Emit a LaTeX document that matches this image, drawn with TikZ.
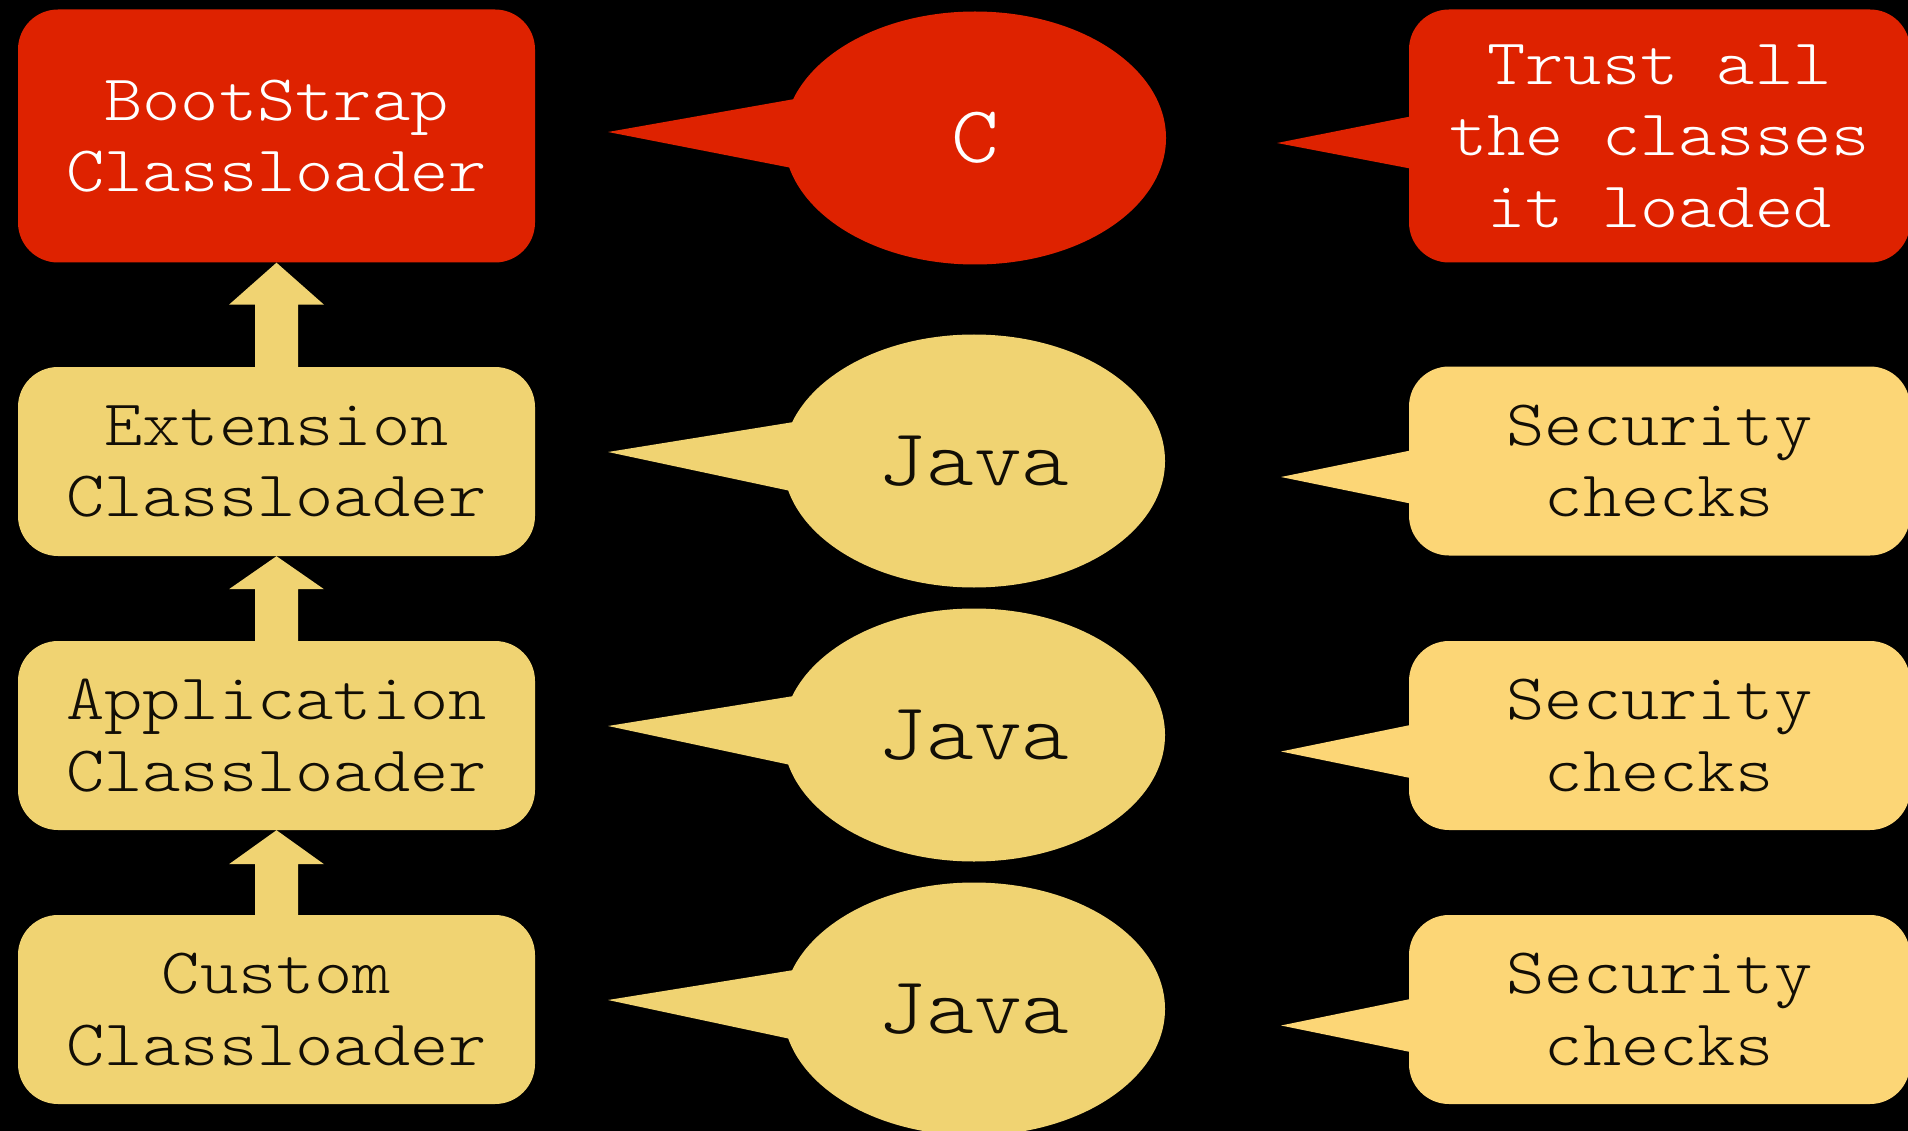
\documentclass[tikz,border=0pt]{standalone}
\usepackage{fontspec}
\usetikzlibrary{calc,shapes.geometric}
\newfontfamily\cour{lmmonolt10-regular.otf}[FakeStretch=1.12]

\definecolor{loadred}{RGB}{222,34,0}
\definecolor{paper}{RGB}{240,211,114}
\definecolor{note}{RGB}{252,214,118}
\definecolor{ink}{RGB}{18,14,6}

% block arrow from the lower box up to the upper box; #3 = head length
\newcommand\UpBlock[3]{%
  \fill[paper] ($(#1.north)+(-21.5,0)$) -- ($(#2.south)+(-21.5,#3)$)
    -- ($(#2.south)+(-47.5,#3)$) -- (#2.south) -- ($(#2.south)+(47.5,#3)$)
    -- ($(#2.south)+(21.5,#3)$) -- ($(#1.north)+(21.5,0)$) -- cycle;}

\begin{document}
\begin{tikzpicture}[x=1pt,y=-1pt,
  boxtext/.style={font=\cour\fontsize{65}{71.5}\selectfont, align=center},
  loader/.style={rectangle, rounded corners=40pt, inner sep=0pt,
    minimum width=517pt, fill=paper, text=ink, boxtext},
  rootloader/.style={loader, fill=loadred, text=white},
  bubble/.style={ellipse, inner sep=0pt, minimum width=382pt,
    minimum height=253pt, fill=paper, text=ink,
    font=\cour\fontsize{81}{83}\selectfont},
  rootbubble/.style={bubble, fill=loadred, text=white},
  remark/.style={rectangle, rounded corners=40pt, inner sep=0pt,
    minimum width=501pt, fill=note, text=ink, boxtext},
  rootremark/.style={remark, fill=loadred, text=white},
]
\useasboundingbox (0,0) rectangle (1908,1131);
\fill[black] (0,0) rectangle (1908,1131);

% classloader hierarchy
\node[rootloader, minimum height=253pt] (boot) at (276.5,136) {BootStrap\\Classloader};
\node[loader, minimum height=189pt] (ext) at (276.5,461.5) {Extension\\Classloader};
\node[loader, minimum height=189pt] (app) at (276.5,735.5) {Application\\Classloader};
\node[loader, minimum height=189pt] (cust) at (276.5,1009.5) {Custom\\Classloader};

\UpBlock{ext}{boot}{42}
\UpBlock{app}{ext}{33}
\UpBlock{cust}{app}{34}

% implementation language bubbles
\node[rootbubble] (lc) at (975,138) {C};
\node[bubble] (lj1) at (974,461) {Java};
\node[bubble] (lj2) at (974,735) {Java};
\node[bubble] (lj3) at (974,1009) {Java};

\coordinate (tc) at (608,132);
\coordinate (tj1) at (608,452);
\coordinate (tj2) at (608,726);
\coordinate (tj3) at (608,1000);
\fill[loadred] (tc) -- (lc.168) -- (lc.189) -- cycle;
\fill[paper] (tj1) -- (lj1.168) -- (lj1.189) -- cycle;
\fill[paper] (tj2) -- (lj2.168) -- (lj2.189) -- cycle;
\fill[paper] (tj3) -- (lj3.168) -- (lj3.189) -- cycle;

% trust notes
\node[rootremark, minimum height=253pt] (rt) at (1659.5,136) {Trust all\\the classes\\it loaded};
\node[remark, minimum height=189pt] (rs1) at (1659.5,461) {Security\\checks};
\node[remark, minimum height=189pt] (rs2) at (1659.5,735.5) {Security\\checks};
\node[remark, minimum height=189pt] (rs3) at (1659.5,1009.5) {Security\\checks};

\coordinate (tt) at (1277,143);
\coordinate (ts1) at (1281,477);
\coordinate (ts2) at (1281,751.5);
\coordinate (ts3) at (1281,1025.5);
\fill[loadred] (tt) -- ($(rt.west)+(4,-20)$) -- ($(rt.west)+(4,33)$) -- cycle;
\fill[note] (ts1) -- ($(rs1.west)+(4,-11)$) -- ($(rs1.west)+(4,43)$) -- cycle;
\fill[note] (ts2) -- ($(rs2.west)+(4,-11)$) -- ($(rs2.west)+(4,43)$) -- cycle;
\fill[note] (ts3) -- ($(rs3.west)+(4,-11)$) -- ($(rs3.west)+(4,43)$) -- cycle;
\end{tikzpicture}
\end{document}
